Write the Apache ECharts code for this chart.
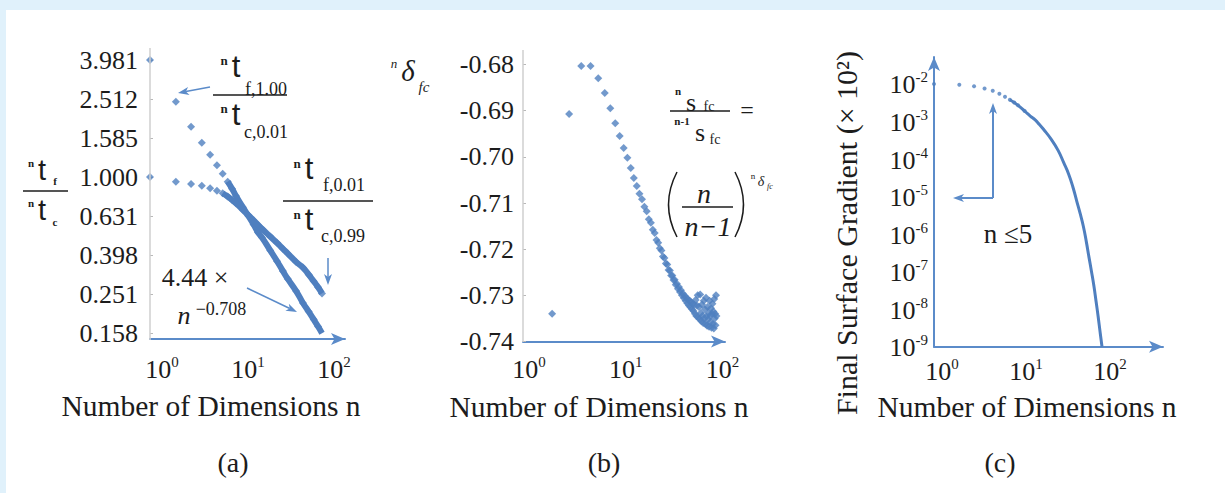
<!DOCTYPE html>
<html><head><meta charset="utf-8">
<script src="https://cdn.jsdelivr.net/npm/echarts@6/dist/echarts.min.js"></script>
<style>html,body{margin:0;padding:0;background:#fff;}#c{width:1225px;height:493px;}</style>
</head><body><div id="c"></div>
<script>
// ---------------- data ----------------
// panel (a): ratio of times vs number of dimensions n
const nA = [1,2,3,4,5,6,7,8,9,10,12,14,16,18,20,25,30,35,40,50,60,70,80,90,100];
const ratioF100C001 = [3.981,2.43,1.81,1.50,1.30,1.15,1.04,0.946,0.87,0.80,0.70,0.63,0.57,0.52,0.49,0.42,0.37,0.33,0.30,0.26,0.226,0.204,0.186,0.171,0.158];
const ratioF001C099 = [1.000,0.946,0.920,0.902,0.875,0.851,0.826,0.794,0.762,0.733,0.679,0.635,0.600,0.569,0.543,0.495,0.459,0.429,0.405,0.367,0.343,0.316,0.292,0.272,0.253];
const yTicksA = ['0.158','0.251','0.398','0.631','1.000','1.585','2.512','3.981'];

// panel (b): exponent delta_fc vs n
const nB = [2,3,4,5,6,7,8,9,10,11,12,13,14,15,16,17,18,19,20,21,22,23,24,25,26,27,28,29,30,31,32,33,34,35,36,37,38,39,40,41,42,43,44,45,46,47,48,49,50,51,52,53,54,55,56,57,58,59,60,61,62,63,64,65,66,67,68,69,70,71,72,73,74,75,76,77,78,79,80,81,82,83,84,85,86,87,88,89,90,91,92,93,94,95,96,97,98,99,100];
const deltaB = [-0.7340,-0.6907,-0.6803,-0.6803,-0.6830,-0.6862,-0.6895,-0.6927,-0.6955,-0.6981,
 -0.7002,-0.7024,-0.7046,-0.7063,-0.7080,-0.7092,-0.7108,-0.7118,-0.7135,-0.7143,
 -0.7158,-0.7165,-0.7180,-0.7186,-0.7198,-0.7203,-0.7216,-0.7219,-0.7231,-0.7233,
 -0.7245,-0.7246,-0.7257,-0.7257,-0.7267,-0.7266,-0.7277,-0.7275,-0.7286,-0.7282,
 -0.7293,-0.7289,-0.7300,-0.7296,-0.7306,-0.7301,-0.7312,-0.7305,-0.7317,-0.7309,
 -0.7322,-0.7312,-0.7326,-0.7315,-0.7330,-0.7318,-0.7334,-0.7320,-0.7340,-0.7310,
 -0.7345,-0.7322,-0.7300,-0.7348,-0.7325,-0.7352,-0.7298,-0.7338,-0.7356,-0.7320,
 -0.7344,-0.7360,-0.7312,-0.7350,-0.7330,-0.7362,-0.7305,-0.7346,-0.7366,-0.7325,
 -0.7352,-0.7338,-0.7368,-0.7312,-0.7345,-0.7358,-0.7328,-0.7370,-0.7340,-0.7318,
 -0.7362,-0.7335,-0.7372,-0.7308,-0.7350,-0.7340,-0.7365,-0.7300,-0.7345];
const yTicksB = ['-0.74','-0.73','-0.72','-0.71','-0.70','-0.69','-0.68'];

// panel (c): final surface gradient (x 10^2) vs n
const nC = [1,2,3,4,5,6,7,8,9,10,12,14,16,18,20,25,30,35,40,45,50,55,60,65,70,75,80,85,90,95,100];
const gradC = [1.0e-2,9.5e-3,8.7e-3,7.6e-3,6.6e-3,5.5e-3,4.6e-3,3.8e-3,3.2e-3,2.7e-3,
 1.9e-3,1.4e-3,1.1e-3,8.3e-4,6.3e-4,3.3e-4,1.7e-4,8.0e-5,4.0e-5,1.8e-5,
 7.6e-6,3.5e-6,1.6e-6,6.3e-7,2.4e-7,1.0e-7,4.2e-8,1.6e-8,6.3e-9,2.4e-9,1.0e-9];

const xTickExponents = [0,1,2];
const yTickExponentsC = [-9,-8,-7,-6,-5,-4,-3,-2];

// ---------------- styling ----------------
const SERIF = 'Liberation Serif';
const SANS = 'Liberation Sans';
const INK = '#1c1c1c';
const BLUE = '#4f7fbf';
const ARROW = '#5b8bc9';
const GRAY = '#cfcfcf';

function powLabel(list) {
  return function (v) {
    const e = Math.log10(v), r = Math.round(e);
    if (Math.abs(e - r) > 1e-6 || list.indexOf(r) < 0) return '';
    return '{b|10}{s|' + r + '}';
  };
}
const richPow = {
  b: {fontSize: 26, fontFamily: SERIF, color: INK, verticalAlign: 'bottom', lineHeight: 28},
  s: {fontSize: 15, fontFamily: SERIF, color: INK, verticalAlign: 'top', lineHeight: 15}
};
function xLog(grid, max, pad, margin, offset) {
  return {
    type: 'log', logBase: 10, gridIndex: grid, min: 1, max: max, offset: offset || 0,
    axisLine: {show: true, onZero: false, symbol: ['none', 'arrow'], symbolSize: [9, 14], lineStyle: {color: ARROW, width: 2}},
    axisTick: {show: false}, minorTick: {show: false}, splitLine: {show: false}, minorSplitLine: {show: false},
    axisLabel: {show: true, margin: margin, padding: [0, 0, 0, pad], fontFamily: SERIF, color: INK,
      formatter: powLabel(xTickExponents), rich: richPow}
  };
}

function T(x, y, text, size, o) {
  o = o || {};
  return {type: 'text', x: x, y: y, rotation: o.rot || 0, silent: true, z: 50,
    style: {text: text, fill: o.color || INK,
      fontSize: size, fontFamily: o.family || SERIF,
      fontStyle: o.italic ? 'italic' : 'normal', fontWeight: o.bold ? 'bold' : 'normal',
      textAlign: o.align || 'center', textVerticalAlign: o.va || 'middle',
      align: o.align || 'center', verticalAlign: o.va || 'middle'}};
}
function L(x1, y1, x2, y2, color, w) {
  return {type: 'line', silent: true, z: 40, shape: {x1: x1, y1: y1, x2: x2, y2: y2}, style: {stroke: color || INK, lineWidth: w || 1.5}};
}
function A(x1, y1, x2, y2, color, w) {
  const dx = x2 - x1, dy = y2 - y1, len = Math.hypot(dx, dy), ux = dx / len, uy = dy / len, hl = 11, hw = 4;
  const bx = x2 - ux * hl, by = y2 - uy * hl;
  return [L(x1, y1, bx + ux * 3, by + uy * 3, color, w),
    {type: 'polygon', silent: true, z: 40,
     shape: {points: [[x2, y2], [bx - uy * hw, by + ux * hw], [bx + ux * 3, by + uy * 3], [bx + uy * hw, by - ux * hw]]},
     style: {fill: color}}];
}
function B(x1, y1, x2, y2, cx, cy) {
  return {type: 'bezierCurve', silent: true, z: 40, shape: {x1: x1, y1: y1, x2: x2, y2: y2, cpx1: cx, cpy1: cy},
    style: {stroke: INK, lineWidth: 1.5, fill: 'none'}};
}

const pairs = (xs, ys, f) => xs.map((x, i) => [x, f ? f(ys[i]) : ys[i]]);
const lg = Math.log10;

const graphics = [].concat(
  [{type: 'rect', silent: true, z: 0, shape: {x: 0, y: 0, width: 1225, height: 10}, style: {fill: '#e0f1fb'}},
   {type: 'rect', silent: true, z: 0, shape: {x: 0, y: 0, width: 6, height: 493}, style: {fill: '#e0f1fb'}}],
  // gray vertical axes of (a) and (b)
  [L(150, 48, 150, 340, GRAY, 1.5), L(523, 50, 523, 342, GRAY, 1.5)],
  // titles
  [T(211, 406, 'Number of Dimensions n', 29.5), T(599, 407, 'Number of Dimensions n', 29.5), T(1027, 407, 'Number of Dimensions n', 29.5),
   T(233, 462, '(a)', 28), T(604, 462, '(b)', 28), T(1000, 462, '(c)', 28),
   T(846, 233, 'Final Surface Gradient (× 10²)', 30, {rot: Math.PI / 2})],
  // (a) y title
  [T(31, 163, 'n', 11, {bold: true}), T(42, 170, 't', 29, {family: SANS}), T(55, 181, 'f', 11, {bold: true}),
   L(23, 191, 68, 191), T(31, 203, 'n', 11, {bold: true}), T(42, 210, 't', 29, {family: SANS}), T(55, 222, 'c', 11, {bold: true})],
  // (a) fractions
  [T(224, 60, 'n', 13, {bold: true}), T(236, 66, 't', 31, {family: SANS}), T(266, 89, 'f,1.00', 18), L(213, 95, 287, 95),
   T(224, 108, 'n', 13, {bold: true}), T(236, 114, 't', 31, {family: SANS}), T(266, 132, 'c,0.01', 18)],
  [T(297, 163, 'n', 13, {bold: true}), T(309, 168, 't', 31, {family: SANS}), T(344, 185, 'f,0.01', 18), L(283, 201, 373, 201),
   T(297, 214, 'n', 13, {bold: true}), T(309, 219, 't', 31, {family: SANS}), T(343, 236, 'c,0.99', 18)],
  A(210, 87, 178, 93, ARROW, 1.5), A(328, 258, 328, 285, ARROW, 1.5), A(247, 288, 297, 312, ARROW, 1.5),
  [T(195, 277, '4.44 ×', 26), T(184, 315, 'n', 26, {italic: true}), T(221, 309, '−0.708', 18)],
  // (b) y title and formula
  [T(394, 63, 'n', 13, {italic: true}), T(408, 71, 'δ', 29, {italic: true}), T(424, 87, 'fc', 15, {italic: true})],
  [T(678, 91, 'n', 11, {bold: true}), T(691, 102, 's', 26), T(709, 106, 'fc', 14), L(670, 111, 730, 111),
   T(682, 121, 'n-1', 11, {bold: true}), T(700, 132, 's', 26), T(715, 139, 'fc', 14), T(747, 110, '=', 24)],
  [B(677, 172, 677, 237, 660, 204.5), B(735, 172, 735, 237, 752, 204.5),
   T(704, 193, 'n', 28, {italic: true}), L(682, 207, 733, 207), T(708, 226, 'n−1', 28, {italic: true}),
   T(753, 176, 'n', 9), T(761, 181, 'δ', 14, {italic: true}), T(770, 186, 'fc', 8, {italic: true})],
  // (c) annotation
  A(993, 198, 993, 103, ARROW, 2), A(993, 198, 953, 198, ARROW, 2),
  [T(1008, 234, 'n ≤5', 27)]
);

const option = {
  animation: false,
  backgroundColor: '#ffffff',
  textStyle: {fontFamily: SERIF},
  grid: [
    {left: 150, top: 60, width: 195, height: 273, outerBoundsMode: 'none', containLabel: false},
    {left: 523, top: 64.5, width: 202, height: 277, outerBoundsMode: 'none', containLabel: false},
    {left: 934, top: 57, width: 229, height: 289.7, outerBoundsMode: 'none', containLabel: false}
  ],
  xAxis: [
    xLog(0, 185, 24, 15, 6),
    xLog(1, 122.7, 12, 13, 0),
    xLog(2, 532, 16, 10, 0)
  ],
  yAxis: [
    {type: 'value', gridIndex: 0, min: -0.8, max: 0.6, interval: 0.2,
     axisLine: {show: false, onZero: false}, splitLine: {show: false},
     axisTick: {show: true, inside: true, length: 3, lineStyle: {color: '#b8b8b8'}},
     axisLabel: {margin: 12, fontSize: 26, fontFamily: SERIF, color: INK,
       formatter: v => yTicksA[Math.round((v + 0.8) / 0.2)] || ''}},
    {type: 'value', gridIndex: 1, min: -0.74, max: -0.68, interval: 0.01,
     axisLine: {show: false, onZero: false}, splitLine: {show: false},
     axisTick: {show: true, inside: true, length: 3, lineStyle: {color: '#b8b8b8'}},
     axisLabel: {margin: 9, fontSize: 26, fontFamily: SERIF, color: INK,
       formatter: v => yTicksB[Math.round((v + 0.74) / 0.01)] || ''}},
    {type: 'log', logBase: 10, gridIndex: 2, min: 1e-9, max: 0.0524,
     axisLine: {show: true, onZero: false, symbol: ['none', 'arrow'], symbolSize: [9, 14], lineStyle: {color: ARROW, width: 2}},
     axisTick: {show: false}, minorTick: {show: false}, splitLine: {show: false},
     axisLabel: {margin: 6, fontFamily: SERIF, color: INK, formatter: powLabel(yTickExponentsC), rich: richPow}}
  ],
  series: [
    {type: 'scatter', xAxisIndex: 0, yAxisIndex: 0, data: pairs(nA, ratioF100C001, lg), symbol: 'diamond', symbolSize: 8, itemStyle: {color: BLUE}},
    {type: 'line', xAxisIndex: 0, yAxisIndex: 0, data: pairs(nA, ratioF100C001, lg).filter(p => p[0] >= 8), symbol: 'none', smooth: true, lineStyle: {width: 6, color: BLUE}},
    {type: 'scatter', xAxisIndex: 0, yAxisIndex: 0, data: pairs(nA, ratioF001C099, lg), symbol: 'diamond', symbolSize: 8, itemStyle: {color: BLUE}},
    {type: 'line', xAxisIndex: 0, yAxisIndex: 0, data: pairs(nA, ratioF001C099, lg).filter(p => p[0] >= 7), symbol: 'none', smooth: true, lineStyle: {width: 6, color: BLUE}},
    {type: 'scatter', xAxisIndex: 1, yAxisIndex: 1, data: pairs(nB, deltaB), symbol: 'diamond', symbolSize: 8, itemStyle: {color: BLUE}},
    {type: 'scatter', xAxisIndex: 2, yAxisIndex: 2, data: pairs(nC, gradC).filter(p => p[0] <= 12), symbol: 'circle', symbolSize: 4, itemStyle: {color: BLUE}},
    {type: 'line', xAxisIndex: 2, yAxisIndex: 2, data: pairs(nC, gradC).filter(p => p[0] >= 8), symbol: 'none', smooth: true, lineStyle: {width: 3, color: BLUE}}
  ],
  graphic: {elements: graphics}
};

const chart = echarts.init(document.getElementById('c'), null, {renderer: 'svg'});
chart.setOption(option);
</script>
</body></html>
